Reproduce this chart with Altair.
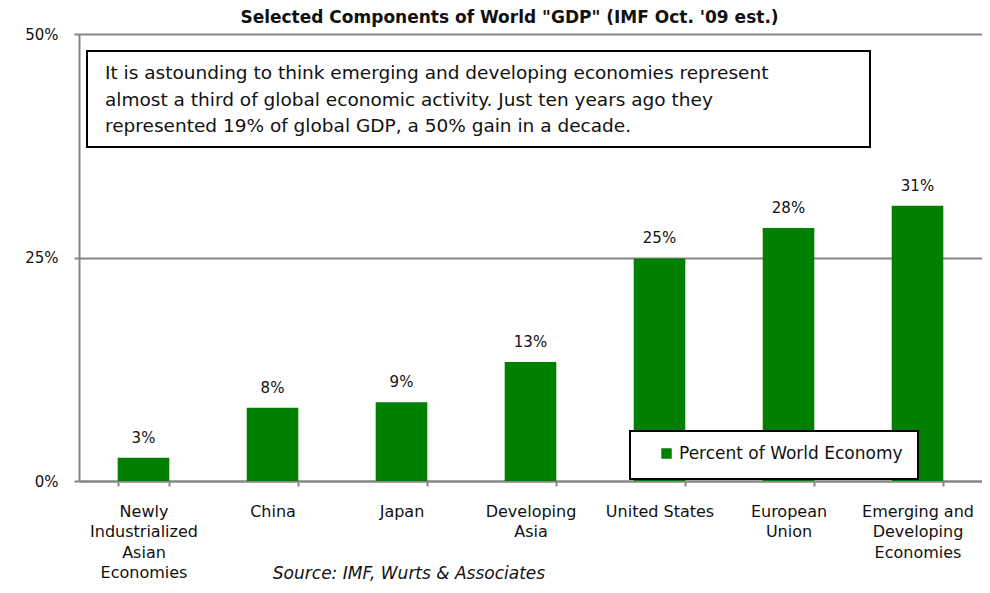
import altair as alt
import pandas as pd

categories = [
    "Newly\nIndustrialized\nAsian\nEconomies",
    "China",
    "Japan",
    "Developing\nAsia",
    "United States",
    "European\nUnion",
    "Emerging and\nDeveloping\nEconomies",
]
values = [2.6, 8.2, 8.8, 13.3, 24.9, 28.3, 30.8]
series_name = "Percent of World Economy"
y_ticks = [0, 25, 50]
title_text = "Selected Components of World \"GDP\" (IMF Oct. '09 est.)"
note_lines = [
    "It is astounding to think emerging and developing economies represent",
    "almost a third of global economic activity. Just ten years ago they",
    "represented 19% of global GDP, a 50% gain in a decade.",
]
source_text = "Source: IMF, Wurts & Associates"

FONT = "DejaVu Sans"
GRAY = "#868686"
GREEN = "#008000"

df = pd.DataFrame({"category": categories, "value": values, "series": series_name})

x_enc = alt.X(
    "category:N",
    sort=categories,
    scale=alt.Scale(paddingInner=0.6, paddingOuter=0.3),
    axis=alt.Axis(
        title=None, labelAngle=0, labelExpr="split(datum.label, '\\n')",
        labelFontSize=16, labelLineHeight=20.5, labelPadding=17, labelLimit=200,
        labelColor="#111111", labelFont=FONT,
        tickSize=5, tickBand="extent", tickColor=GRAY, tickWidth=2,
        domainColor=GRAY, domainWidth=2, grid=False,
    ),
)
y_enc = alt.Y(
    "value:Q",
    scale=alt.Scale(domain=[0, 50], nice=False),
    axis=alt.Axis(
        title=None, values=y_ticks, labelExpr="datum.value + '%'",
        labelFontSize=15, labelPadding=16, labelColor="#111111", labelFont=FONT,
        tickSize=5, tickColor=GRAY, tickWidth=2,
        domainColor=GRAY, domainWidth=2,
        grid=True, gridColor=GRAY, gridWidth=2,
    ),
)

base = alt.Chart(df)

bars = base.mark_bar(color=GREEN).encode(
    x=x_enc,
    y=y_enc,
    color=alt.Color(
        "series:N",
        scale=alt.Scale(range=[GREEN]),
        legend=alt.Legend(
            title=None, orient="none", legendX=579, legendY=411,
            symbolType="square", symbolSize=110, symbolStrokeWidth=0,
            labelFontSize=17, labelFont=FONT, labelColor="#111111",
            labelOffset=4, padding=0, labelLimit=400,
        ),
    ),
)

labels = base.transform_calculate(
    lab="format(datum.value, '.0f') + '%'"
).mark_text(baseline="bottom", dy=-12, fontSize=15, font=FONT, color="#111111").encode(
    x=alt.X("category:N", sort=categories),
    y="value:Q",
    text="lab:N",
)

one = alt.Data(values=[{"k": 1}])

note_box = alt.Chart(one).mark_rect(fill="white", stroke="black", strokeWidth=2).encode(
    x=alt.value(8), x2=alt.value(791), y=alt.value(17), y2=alt.value(113)
)
note_text = alt.Chart(one).mark_text(
    text=note_lines, align="left", baseline="alphabetic", lineHeight=26.5,
    fontSize=18.5, font=FONT, color="#111111",
).encode(x=alt.value(26), y=alt.value(45))

legend_box = alt.Chart(one).mark_rect(fill="white", stroke="black", strokeWidth=2).encode(
    x=alt.value(551), x2=alt.value(839), y=alt.value(397), y2=alt.value(445)
)

source = alt.Chart(one).mark_text(
    text=source_text, align="center", baseline="alphabetic", fontSize=17,
    font=FONT, fontStyle="italic", color="#111111",
).encode(x=alt.value(330), y=alt.value(545))

chart = alt.layer(bars, labels, note_box, note_text, legend_box, source).properties(
    width=903,
    height=447,
    autosize="none",
    padding={"left": 71, "top": 26, "right": 0, "bottom": 104},
    title=alt.TitleParams(
        text=title_text, fontSize=17, font=FONT, fontWeight="bold",
        color="#111111", anchor="middle", dx=-21, offset=0,
    ),
).configure_view(stroke=None)

chart.save("out.html", embed_options={"renderer": "svg", "actions": False})
